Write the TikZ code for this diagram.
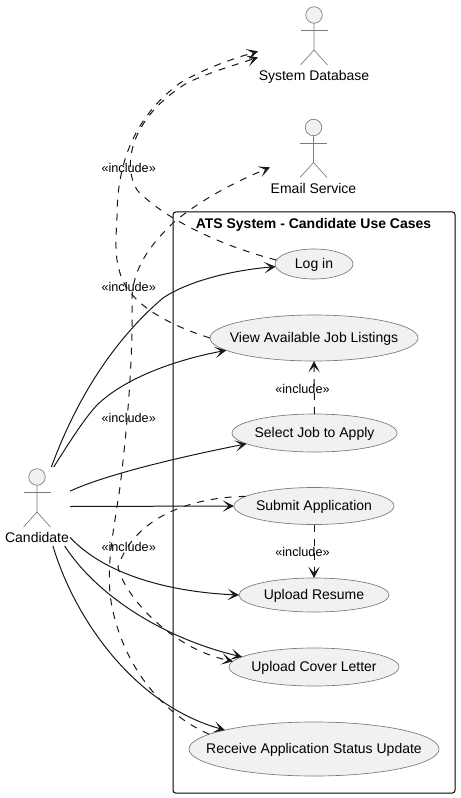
\documentclass[tikz,border=0pt]{standalone}
\usepackage{fontspec}
\setmainfont{Liberation Sans}
\usepackage{xcolor}
\usepackage{tikz}
\usetikzlibrary{shapes.geometric, arrows.meta, positioning}
\definecolor{umlfill}{HTML}{F1F1F1}
\definecolor{umlline}{HTML}{181818}
\definecolor{umledge}{HTML}{7A7A7A}
\newcommand{\casename}[1]{\makebox[0pt]{#1}}

\begin{document}
\begin{tikzpicture}[x=0.75pt, y=-0.75pt, >={Stealth[length=8.5pt, width=8.5pt, inset=4.5pt]}, font=\fontsize{10.5}{12.6}\selectfont,
  usecase/.style={ellipse, draw=umledge, fill=umlfill, line width=0.5pt, inner sep=0pt, outer sep=0pt, text=black, text height=9pt, text depth=2.2pt},
  actorbox/.style={rectangle, inner sep=0pt, outer sep=0pt},
  actorname/.style={inner sep=0pt, text height=8pt, text depth=2.2pt},
  actorline/.style={draw=umledge, fill=umlfill, line width=0.5pt},
  includetag/.style={inner sep=0pt, font=\fontsize{9.5}{11.4}\selectfont, text height=7.6pt, text depth=2pt},
  assoc/.style={->, umlline, line width=0.75pt},
  incl/.style={->, umlline, line width=0.75pt, dash pattern=on 5.25pt off 5.25pt}]
  \useasboundingbox (0,0) rectangle (460,798);

  % System boundary
  \node[draw=black, line width=0.75pt, rounded corners=2pt, inner sep=0pt, outer sep=0pt, minimum width=211.5pt, minimum height=435.75pt] (atsBoundary) at (314,502.5) {};
  \node[inner sep=0pt, font=\fontsize{10.5}{12.6}\selectfont\bfseries, text height=8pt, text depth=2.2pt] (atsTitle) at (313.5,224.5) {ATS System - Candidate Use Cases};

  % Use cases
  \node[usecase, minimum width=58.5pt,  minimum height=22.5pt] (logIn)    at (314,264)   {\casename{Log in}};
  \node[usecase, minimum width=156pt,   minimum height=34.5pt] (viewJobs) at (314,338)   {\casename{View Available Job Listings}};
  \node[usecase, minimum width=123.75pt,minimum height=28.5pt] (selectJob) at (314.5,433) {\casename{Select Job to Apply}};
  \node[usecase, minimum width=120pt,   minimum height=27.75pt] (submitApp) at (314,506)  {\casename{Submit Application}};
  \node[usecase, minimum width=112.5pt, minimum height=25.5pt] (uploadRes) at (314,595)   {\casename{Upload Resume}};
  \node[usecase, minimum width=127.5pt, minimum height=28.5pt] (uploadCov) at (314,667)   {\casename{Upload Cover Letter}};
  \node[usecase, minimum width=187.5pt, minimum height=40.5pt] (statusUpd) at (314,749)   {\casename{Receive Application Status Update}};

  % Actors
  \foreach \x/\y in {314/15, 313.5/127.5, 37/477} {
    \draw[actorline] (\x,\y) circle[radius=6.2pt];
    \draw[umledge, line width=0.5pt] (\x,\y+8.5) -- (\x,\y+35) -- (\x-13.5,\y+50);
    \draw[umledge, line width=0.5pt] (\x,\y+35) -- (\x+13.5,\y+50);
    \draw[umledge, line width=0.5pt] (\x-13.5,\y+15.5) -- (\x+13.5,\y+15.5);
  }
  \node[actorbox, minimum width=84pt, minimum height=60pt]     (sysDb)    at (314,45.5) {};
  \node[actorbox, minimum width=66pt, minimum height=58.5pt]   (emailSvc) at (314,158)  {};
  \node[actorbox, minimum width=49.5pt, minimum height=59.25pt] (candidate) at (37,506.5) {};
  \node[actorname] (sysDbName)     at (314,77)  {System Database};
  \node[actorname] (emailSvcName)  at (313.5,190) {Email Service};
  \node[actorname] (candidateName) at (37,539)  {Candidate};

  % Candidate associations
  \draw[assoc] (candidate.70) .. controls (73,408) and (108,345) .. (163,298) .. controls (190,280) and (235,270) .. (logIn.184);
  \draw[assoc] (candidate.67) .. controls (72,438) and (85,418) .. (97,405) .. controls (125,378) and (175,360) .. (viewJobs.188);
  \draw[assoc] (candidate.25) .. controls (105,475) and (175,458) .. (selectJob.189);
  \draw[assoc] (candidate.0) -- (submitApp.west);
  \draw[assoc] (candidate.-43) .. controls (105,575) and (170,592) .. (uploadRes.west);
  \draw[assoc] (candidate.-55) .. controls (100,600) and (170,640) .. (uploadCov.172);
  \draw[assoc] (candidate.-68) .. controls (75,620) and (135,705) .. (statusUpd.168.8);

  % Include relations
  \draw[incl] (logIn.174) .. controls (225,247) and (165,220) .. (137,190) .. controls (122,165) and (130,118) .. (187,83) .. controls (210,72) and (235,65) .. (sysDb.192.6);
  \draw[incl] (viewJobs.180) .. controls (175,327) and (140,310) .. (125,285) .. controls (113,262) and (116,240) .. (117,217) .. controls (117,170) and (130,120) .. (180,83) .. controls (205,68) and (235,58) .. (sysDb.186.6);
  \draw[incl] (selectJob.north) -- (viewJobs.south);
  \draw[incl] (submitApp.172.8) .. controls (195,497) and (135,515) .. (118,567) .. controls (124,595) and (170,648) .. (uploadCov.176);
  \draw[incl] (submitApp.south) -- (uploadRes.north);
  \draw[incl] (statusUpd.172.5) .. controls (165,715) and (125,670) .. (112,607) .. controls (105,570) and (113,535) .. (120,487) .. controls (127,430) and (133,360) .. (132,303) .. controls (131,270) and (150,245) .. (173,223) .. controls (200,200) and (235,182) .. (emailSvc.192.8);

  % Include labels
  \node[includetag] (tagLogIn)  at (128.7,168.5) {«include»};
  \node[includetag] (tagView)   at (128.7,287.5) {«include»};
  \node[includetag] (tagStatus) at (128.7,418.5) {«include»};
  \node[includetag] (tagSubmit) at (128.7,547.5) {«include»};
  \node[includetag] (tagSelect) at (302.5,389.5) {«include»};
  \node[includetag] (tagResume) at (302.5,553) {«include»};
\end{tikzpicture}
\end{document}
